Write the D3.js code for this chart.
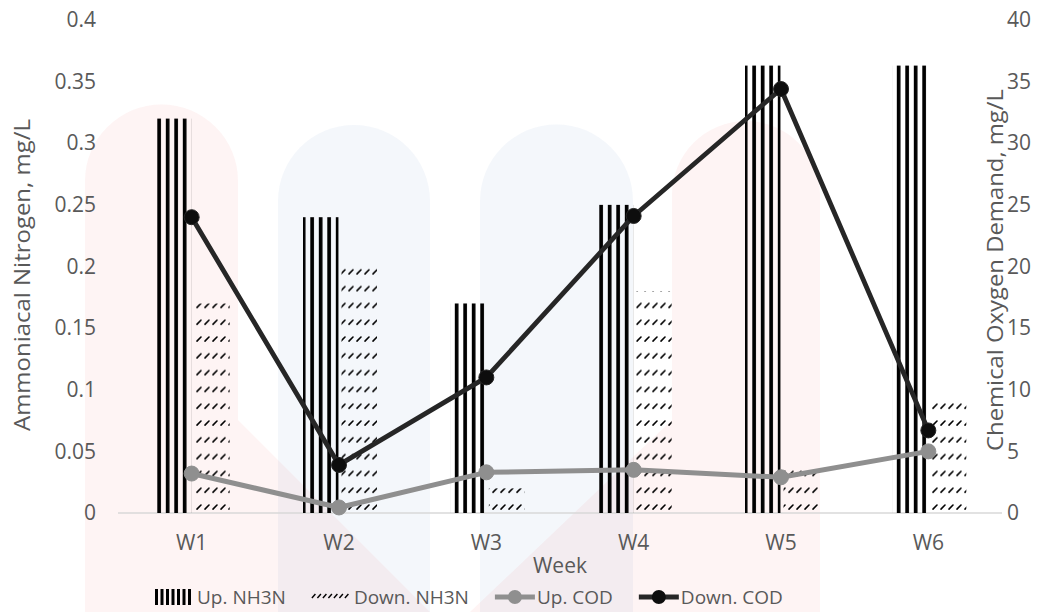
<!DOCTYPE html>
<html>
<head>
<meta charset="utf-8">
<script src="https://cdn.jsdelivr.net/npm/d3@7"></script>
<style>
  body { margin: 0; background: #fff; }
  svg { display: block; font-family: "Open Sans", sans-serif; }
</style>
</head>
<body>
<svg id="svg1" width="1057" height="612"></svg>
<script>
// data
var weeks = ['W1', 'W2', 'W3', 'W4', 'W5', 'W6'];
var upNH3N = [0.32, 0.24, 0.17, 0.25, 0.363, 0.363];
var downNH3N = [0.17, 0.20, 0.02, 0.18, 0.04, 0.09];
var upCOD = [3.2, 0.45, 3.3, 3.5, 2.9, 5.0];
var downCOD = [24.0, 3.9, 11.0, 24.1, 34.4, 6.7];
var leftTicks = [0, 0.05, 0.1, 0.15, 0.2, 0.25, 0.3, 0.35, 0.4];
var rightTicks = [0, 5, 10, 15, 20, 25, 30, 35, 40];

var plotLeft = 118, plotRight = 1002, plotTop = 20, plotBottom = 513;
var textColor = '#595959';

var svg = d3.select('svg');

// faint logo watermark behind the chart
var wm = svg.append('g');
wm.append('path')
    .attr('d', 'M85,612 L85,181 A76,76 0 0 1 238,181 L238,420 L430,612 Z')
    .attr('fill', 'rgb(231,76,60)').attr('fill-opacity', 0.06);
wm.append('path')
    .attr('d', 'M820,612 L820,195 A74,74 0 0 0 672,195 L672,420 L470,612 Z')
    .attr('fill', 'rgb(231,76,60)').attr('fill-opacity', 0.06);
wm.append('path')
    .attr('d', 'M278,612 L278,201 A76,76 0 0 1 430,201 L430,612 Z')
    .attr('fill', 'rgb(70,120,180)').attr('fill-opacity', 0.06);
wm.append('path')
    .attr('d', 'M480,612 L480,201 A76,76 0 0 1 633,201 L633,612 Z')
    .attr('fill', 'rgb(70,120,180)').attr('fill-opacity', 0.06);

// patterns for the bars
var defs = svg.append('defs');
var stripe = defs.append('pattern')
    .attr('id', 'vstripe')
    .attr('patternUnits', 'userSpaceOnUse')
    .attr('x', 157.3).attr('y', 0)
    .attr('width', 8.5).attr('height', 10);
stripe.append('rect').attr('x', 0).attr('y', 0).attr('width', 3.7).attr('height', 10).attr('fill', '#000');

var dash = defs.append('pattern')
    .attr('id', 'dashes')
    .attr('patternUnits', 'userSpaceOnUse')
    .attr('x', 196).attr('y', 0)
    .attr('width', 8).attr('height', 16.8);
dash.append('path')
    .attr('d', 'M1,5 L5,1')
    .attr('stroke', '#000').attr('stroke-width', 1.6).attr('stroke-linecap', 'round');

// scales
var x = d3.scaleBand().domain(weeks).range([plotLeft, plotRight]);
var xs = d3.scaleBand().domain(['up', 'down']).range([-36, 38]).paddingInner(0.08);
var yL = d3.scaleLinear().domain([0, 0.4]).range([plotBottom, plotTop]);
var yR = d3.scaleLinear().domain([0, 40]).range([plotBottom, plotTop]);
function cx(d) { return x(d) + x.bandwidth() / 2; }

// x baseline
svg.append('line')
    .attr('x1', plotLeft).attr('x2', plotRight)
    .attr('y1', plotBottom).attr('y2', plotBottom)
    .attr('stroke', '#d9d9d9').attr('stroke-width', 1.3);

// bars
svg.selectAll('.bar-up')
    .data(weeks)
    .enter()
    .append('rect')
    .attr('class', 'bar-up')
    .attr('x', function(d) { return cx(d) + xs('up'); })
    .attr('width', xs.bandwidth())
    .attr('y', function(d, i) { return yL(upNH3N[i]); })
    .attr('height', function(d, i) { return plotBottom - yL(upNH3N[i]); })
    .attr('fill', 'url(#vstripe)');

svg.selectAll('.bar-down')
    .data(weeks)
    .enter()
    .append('rect')
    .attr('class', 'bar-down')
    .attr('x', function(d) { return cx(d) + xs('down'); })
    .attr('width', xs.bandwidth())
    .attr('y', function(d, i) { return yL(downNH3N[i]); })
    .attr('height', function(d, i) { return plotBottom - yL(downNH3N[i]); })
    .attr('fill', 'url(#dashes)');

// lines on the right axis
var line = d3.line()
    .x(function(d) { return cx(d.w); })
    .y(function(d) { return yR(d.v); });

function drawSeries(values, color, lw, dot, dotStroke) {
    var pts = weeks.map(function(w, i) { return {w: w, v: values[i]}; });
    svg.append('path')
        .datum(pts)
        .attr('d', line)
        .attr('fill', 'none')
        .attr('stroke', color)
        .attr('stroke-width', lw)
        .attr('stroke-linejoin', 'round');
    svg.append('g').selectAll('circle')
        .data(pts)
        .enter()
        .append('circle')
        .attr('cx', function(d) { return cx(d.w); })
        .attr('cy', function(d) { return yR(d.v); })
        .attr('r', 7.5)
        .attr('fill', dot)
        .attr('stroke', dotStroke)
        .attr('stroke-width', 1);
}
drawSeries(upCOD, '#8f8f8f', 5, '#8f8f8f', '#8f8f8f');
drawSeries(downCOD, '#262626', 4.8, '#0d0d0d', '#262626');

// axes
var axL = svg.append('g')
    .attr('transform', 'translate(' + plotLeft + ',0)')
    .call(d3.axisLeft(yL).tickValues(leftTicks).tickFormat(function(d) { return String(d); }).tickSize(0).tickPadding(22));
var axR = svg.append('g')
    .attr('transform', 'translate(' + plotRight + ',0)')
    .call(d3.axisRight(yR).tickValues(rightTicks).tickFormat(function(d) { return String(d); }).tickSize(0).tickPadding(5));
var axX = svg.append('g')
    .attr('transform', 'translate(0,' + plotBottom + ')')
    .call(d3.axisBottom(x).tickSize(0).tickPadding(22));

[axL, axR, axX].forEach(function(a) {
    a.select('.domain').remove();
    a.selectAll('text')
        .attr('fill', textColor)
        .style('font-family', '"Open Sans", sans-serif')
        .style('font-size', '21px');
});

// axis titles
svg.append('text')
    .attr('transform', 'translate(30,275) rotate(-90)')
    .attr('text-anchor', 'middle')
    .attr('fill', textColor)
    .attr('textLength', 312)
    .attr('lengthAdjust', 'spacingAndGlyphs')
    .style('font-size', '21px')
    .text('Ammoniacal Nitrogen, mg/L');

svg.append('text')
    .attr('transform', 'translate(1003,270) rotate(-90)')
    .attr('text-anchor', 'middle')
    .attr('fill', textColor)
    .attr('textLength', 362)
    .attr('lengthAdjust', 'spacingAndGlyphs')
    .style('font-size', '21px')
    .text('Chemical Oxygen Demand, mg/L');

svg.append('text')
    .attr('x', 560).attr('y', 573)
    .attr('text-anchor', 'middle')
    .attr('fill', textColor)
    .style('font-size', '21px')
    .text('Week');

// legend
var legendItems = [
    {name: 'Up. NH3N', type: 'stripe'},
    {name: 'Down. NH3N', type: 'dash'},
    {name: 'Up. COD', type: 'line', color: '#8f8f8f'},
    {name: 'Down. COD', type: 'line', color: '#262626', dot: '#0d0d0d'}
];
var lg = svg.append('g');
var lx = 155, ly = 597;
legendItems.forEach(function(it) {
    if (it.type === 'stripe') {
        for (var k = 0; k < 7; k++) {
            lg.append('rect').attr('x', lx + k * 5.5).attr('y', ly - 8).attr('width', 3).attr('height', 16).attr('fill', '#000');
        }
    } else if (it.type === 'dash') {
        for (var k = 0; k < 7; k++) {
            lg.append('path')
                .attr('d', 'M' + (lx + k * 5.5) + ',' + (ly + 1) + ' l3.5,-4')
                .attr('stroke', '#000').attr('stroke-width', 1.4);
        }
    } else {
        lg.append('line').attr('x1', lx).attr('x2', lx + 40).attr('y1', ly).attr('y2', ly)
            .attr('stroke', it.color).attr('stroke-width', 5);
        lg.append('circle').attr('cx', lx + 20).attr('cy', ly).attr('r', 7)
            .attr('fill', it.dot || it.color);
    }
    var t = lg.append('text')
        .attr('x', lx + 42).attr('y', ly + 7)
        .attr('fill', textColor)
        .style('font-size', '19px')
        .text(it.name);
    lx = lx + 42 + t.node().getComputedTextLength() + 26;
});
</script>
</body>
</html>
